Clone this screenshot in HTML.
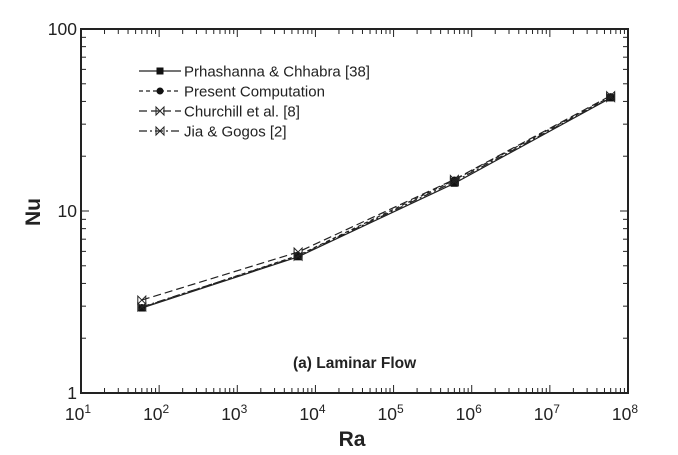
<!DOCTYPE html>
<html><head><meta charset="utf-8"><style>
body{margin:0;background:#fff;}
svg{display:block;font-family:"Liberation Sans",Arial,sans-serif;}
</style></head><body>
<svg id="chart" width="678" height="455" viewBox="0 0 678 455" xmlns="http://www.w3.org/2000/svg">
<g id="axes"></g>
<g id="series"></g>
<g id="legend"></g>
<text x="293" y="368" font-size="15.5" font-weight="bold" fill="#222">(a) Laminar Flow</text>
<text x="352" y="446" font-size="21" font-weight="bold" text-anchor="middle" fill="#222">Ra</text>
<text x="0" y="0" font-size="21" font-weight="bold" text-anchor="middle" fill="#222" transform="translate(40,212) rotate(-90)">Nu</text>
</svg>
<script>
const raValues = [60, 6000, 600000, 60000000];
const nuPrhashanna = [2.93, 5.6, 14.2, 41.8];
const nuPresent = [2.95, 5.7, 14.8, 42.5];
const nuChurchill = [3.24, 5.95, 14.9, 43.0];
const nuJia = [2.97, 5.65, 14.5, 42.0];
const xTickExps = [1,2,3,4,5,6,7,8];
const yTickLabels = ["1","10","100"];

const NS="http://www.w3.org/2000/svg";
const L=81,R=628,T=29,B=393;
const xs=v=>L+(Math.log10(v)-1)/7*(R-L);
const ys=v=>B-Math.log10(v)/2*(B-T);
function mk(tag,attrs,parent){const e=document.createElementNS(NS,tag);for(const k in attrs)e.setAttribute(k,attrs[k]);parent.appendChild(e);return e;}
const axes=document.getElementById('axes');
const frame=mk('rect',{x:L,y:T,width:R-L,height:B-T,fill:'none',stroke:'#222','stroke-width':2},axes);


for(let d=1;d<=8;d++){
  for(let m=1;m<=9;m++){
    if(d===8&&m>1)break;
    const v=m*Math.pow(10,d);const x=xs(v);const len=m===1?8:5;
    mk('line',{x1:x,y1:B,x2:x,y2:B-len,stroke:'#222','stroke-width':1},axes);
    mk('line',{x1:x,y1:T,x2:x,y2:T+len,stroke:'#222','stroke-width':1},axes);
  }
}
xTickExps.forEach(e=>{
  const t=mk('text',{x:xs(Math.pow(10,e))-3,y:420,'font-size':17.5,'text-anchor':'middle',fill:'#222'},axes);
  
  
  t.innerHTML='10<tspan dy="-7" font-size="12">'+e+'</tspan>';
});
for(let d=0;d<=2;d++){
  for(let m=1;m<=9;m++){
    if(d===2&&m>1)break;
    const v=m*Math.pow(10,d);const y=ys(v);const len=m===1?8:5;
    mk('line',{x1:L,y1:y,x2:L+len,y2:y,stroke:'#222','stroke-width':1},axes);
    mk('line',{x1:R,y1:y,x2:R-len,y2:y,stroke:'#222','stroke-width':1},axes);
  }
}
yTickLabels.forEach((s,i)=>{
  const t=mk('text',{x:L-4,y:ys(Math.pow(10,i))+6,'font-size':17.5,'text-anchor':'end',fill:'#222'},axes);
  
  
  t.textContent=s;
});
const seriesDefs=[
 {name:'prhashanna',data:nuPrhashanna,dash:'',marker:'square'},
 {name:'present',data:nuPresent,dash:'4,3',marker:'circle'},
 {name:'churchill',data:nuChurchill,dash:'8,4',marker:'bowtie'},
 {name:'jia',data:nuJia,dash:'8,3,2,3',marker:'bowtie'}
];
function marker(type,x,y,g){
  if(type==='square')mk('rect',{x:x-3.5,y:y-3.5,width:7,height:7,fill:'#111'},g);
  else if(type==='circle')mk('circle',{cx:x,cy:y,r:3.5,fill:'#111'},g);
  else mk('path',{d:`M${x-4},${y-4}L${x+4},${y+4}L${x+4},${y-4}L${x-4},${y+4}Z`,fill:'none',stroke:'#222','stroke-width':1},g);
}
const sg=document.getElementById('series');
seriesDefs.forEach(s=>{
  const g=mk('g',{},sg);
  
  
  const pts=raValues.map((r,i)=>xs(r)+','+ys(s.data[i])).join(' ');
  const pl=mk('polyline',{points:pts,fill:'none',stroke:'#222','stroke-width':1.2},g);
  if(s.dash)pl.setAttribute('stroke-dasharray',s.dash);
  raValues.forEach((r,i)=>marker(s.marker,xs(r),ys(s.data[i]),g));
});
const lg=document.getElementById('legend');
const labels=['Prhashanna & Chhabra [38]','Present Computation','Churchill et al. [8]','Jia & Gogos [2]'];
seriesDefs.forEach((s,i)=>{
  const y=71+i*20;
  const g=mk('g',{},lg);
  
  
  const ln=mk('line',{x1:139,y1:y,x2:181,y2:y,stroke:'#222','stroke-width':1.2},g);
  if(s.dash)ln.setAttribute('stroke-dasharray',s.dash);
  marker(s.marker,160,y,g);
  const t=mk('text',{x:184,y:y+5.5,'font-size':15,fill:'#222'},g);
  t.textContent=labels[i];
});
</script>
</body></html>
